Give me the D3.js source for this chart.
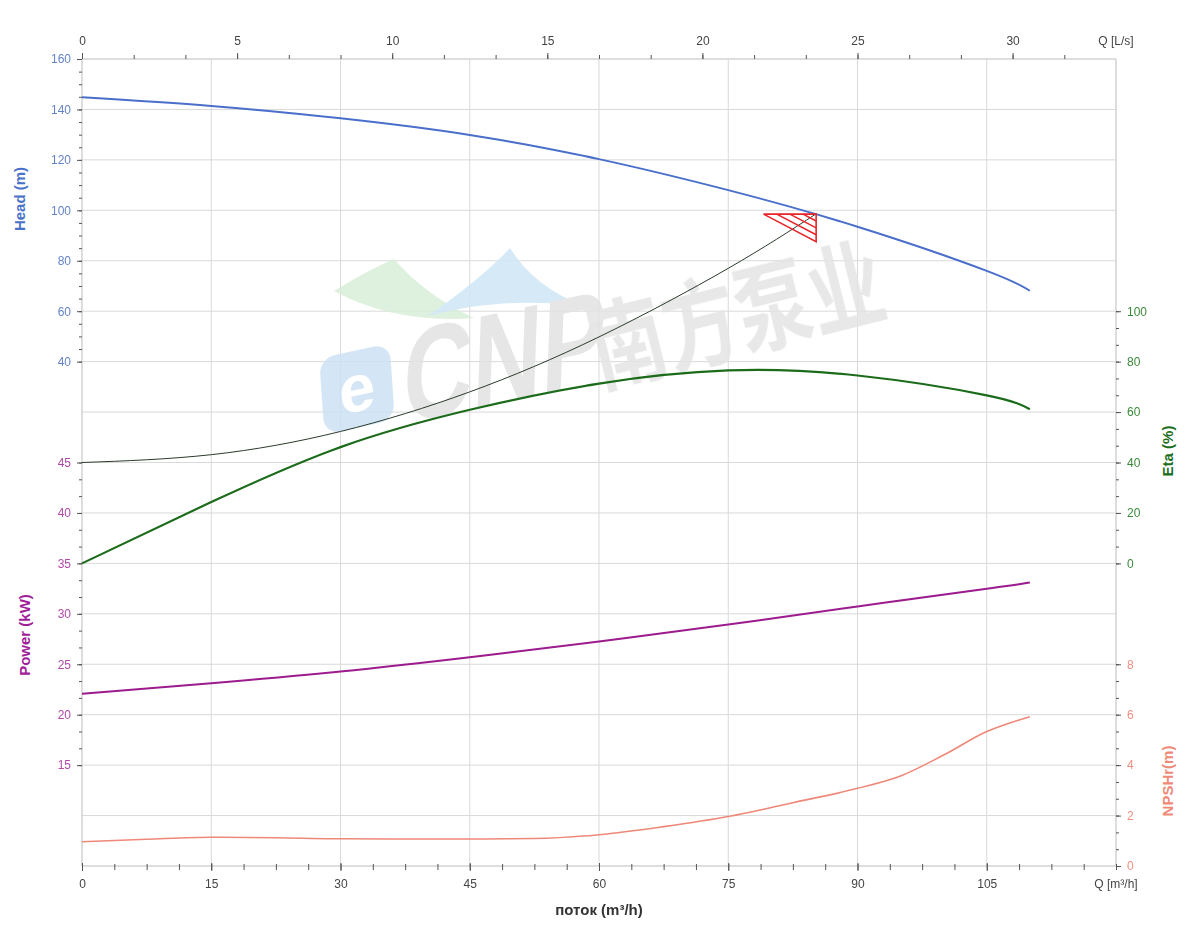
<!DOCTYPE html>
<html>
<head>
<meta charset="utf-8">
<script src="https://cdn.jsdelivr.net/npm/d3@7"></script>
<style>
  body { margin: 0; background: #fff; }
  svg text { font-family: "Liberation Sans", Arial, sans-serif; }
</style>
</head>
<body>
<script>
// flow points (m3/h) used for head / eta / power readings
const flowQ = [0, 15, 30, 45, 60, 75, 90, 105, 110];
const headM = [144.8, 141.4, 136.5, 129.9, 120.3, 108, 93.5, 76, 68.1];
const etaPct = [0, 24.3, 46.1, 60.9, 71.3, 76.5, 74.5, 66.6, 61.1];
const powerKW = [22.07, 23.12, 24.28, 25.7, 27.26, 28.94, 30.73, 32.48, 33.1];

// NPSHr was read at its own flow points
const npshQ = [0, 7.5, 15, 22.5, 30, 45, 52.5, 60, 67.5, 75, 82.5, 90, 95, 100, 105, 110];
const npshM = [0.96, 1.06, 1.14, 1.12, 1.08, 1.07, 1.09, 1.24, 1.56, 1.96, 2.51, 3.08, 3.57, 4.4, 5.33, 5.92];

// system curve, ends at duty point
const sysQ = [0, 15, 30, 45, 60, 75, 85.2];
const sysH = [0, 3.1, 12.3, 28, 49.8, 77, 98.6];

// duty point tolerance triangle: [left Q, duty Q], [top H, bottom H]
const dutyQ = [79.1, 85.2];
const dutyH = [98.5, 87.6];

// tick labels
const bottomTicks = [0, 15, 30, 45, 60, 75, 90, 105];
const topTicks = [0, 5, 10, 15, 20, 25, 30];
const headTicks = [40, 60, 80, 100, 120, 140, 160];
const powerTicks = [15, 20, 25, 30, 35, 40, 45];
const etaTicks = [0, 20, 40, 60, 80, 100];
const npshTicks = [0, 2, 4, 6, 8];

const W = 1200, H = 950;
const pL = 82, pR = 1116, pT = 59, pB = 866;
const row = (pB - pT) / 16;

const svg = d3.select("body").append("svg")
  .attr("width", W).attr("height", H);

const x = d3.scaleLinear().domain([0, 120]).range([pL, pR]);
const xTop = d3.scaleLinear().domain([0, 120 / 3.6]).range([pL, pR]);
const yHead = d3.scaleLinear().domain([0, 160]).range([pT + 8 * row, pT]);
const yPower = d3.scaleLinear().domain([10, 45]).range([pT + 15 * row, pT + 8 * row]);
const yEta = d3.scaleLinear().domain([0, 100]).range([pT + 10 * row, pT + 5 * row]);
const yNpsh = d3.scaleLinear().domain([0, 8]).range([pB, pT + 12 * row]);

const gridColor = "#d9d9d9";

// grid
const grid = svg.append("g");
grid.selectAll("line.h")
  .data(d3.range(17))
  .enter().append("line")
  .attr("x1", pL).attr("x2", pR)
  .attr("y1", (d) => pT + d * row).attr("y2", (d) => pT + d * row)
  .attr("stroke", gridColor);
grid.selectAll("line.v")
  .data(bottomTicks.concat([120]))
  .enter().append("line")
  .attr("x1", (d) => x(d)).attr("x2", (d) => x(d))
  .attr("y1", pT).attr("y2", pB)
  .attr("stroke", gridColor);

// watermark (CNP logo)
const wm = svg.append("g").attr("opacity", 0.85);
wm.append("path")
  .attr("d", "M334,291 Q368,270 394,259 Q425,295 474,318 Q395,324 334,291 Z")
  .attr("fill", "#d9eed9");
wm.append("path")
  .attr("d", "M428,316 Q482,278 510,248 Q534,287 584,306 Q500,296 428,316 Z")
  .attr("fill", "#cfe6f6");
const icon = wm.append("g").attr("transform", "translate(357,389) rotate(-12) skewX(-8)");
icon.append("rect")
  .attr("x", -36).attr("y", -38).attr("width", 72).attr("height", 76)
  .attr("rx", 16)
  .attr("fill", "#cde2f4");
icon.append("text")
  .attr("x", 0).attr("y", 22)
  .attr("text-anchor", "middle")
  .attr("font-size", 66).attr("font-weight", "bold")
  .attr("fill", "#fff")
  .text("e");
wm.append("text")
  .attr("transform", "translate(402,424) rotate(-12) skewX(-14) scale(0.7,0.92)")
  .attr("font-size", 140).attr("font-weight", "bold")
  .attr("fill", "#e2e2e2")
  .text("CNP");
wm.append("text")
  .attr("transform", "translate(600,386) rotate(-14) scale(0.85,1.1)")
  .style("font-family", "'Noto Sans CJK SC', sans-serif")
  .attr("font-size", 88).attr("font-weight", "bold")
  .attr("fill", "#e4e4e4")
  .text("南方泵业");

// axes
const tickColor = "#555";

function styleAxis(g, color) {
  g.select(".domain").remove();
  g.selectAll(".tick line").attr("stroke", tickColor);
  g.selectAll(".tick text").attr("fill", color).attr("font-size", 12)
    .style("font-family", "'Liberation Sans', Arial, sans-serif");
}

// border lines
svg.append("line").attr("x1", pL).attr("x2", pR).attr("y1", pT).attr("y2", pT).attr("stroke", "#cfcfcf");
svg.append("line").attr("x1", pR).attr("x2", pR).attr("y1", pT).attr("y2", pB).attr("stroke", "#cfcfcf");
svg.append("line").attr("x1", pL).attr("x2", pL).attr("y1", pT).attr("y2", pB).attr("stroke", "#cfcfcf");
svg.append("line").attr("x1", pL).attr("x2", pR).attr("y1", pB).attr("y2", pB).attr("stroke", "#cfcfcf");

// top axis (L/s)
svg.append("g").attr("transform", `translate(0,${pT})`)
  .call(d3.axisTop(xTop).tickValues(d3.range(0, 32, 5 / 3)).tickSize(4).tickFormat(""))
  .call((g) => styleAxis(g, "#444"));
svg.append("g").attr("transform", `translate(0,${pT})`)
  .call(d3.axisTop(xTop).tickValues(topTicks).tickSize(6).tickPadding(8))
  .call((g) => styleAxis(g, "#444"));
svg.append("text").attr("x", pR).attr("y", 45)
  .attr("text-anchor", "middle").attr("font-size", 12).attr("fill", "#444")
  .text("Q [L/s]");

// bottom axis (m3/h)
svg.append("g").attr("transform", `translate(0,${pB})`)
  .call(d3.axisBottom(x).tickValues(d3.range(0, 121, 3.75)).tickSize(4).tickFormat(""))
  .call((g) => { styleAxis(g, "#444"); g.selectAll(".tick line").attr("y1", -2); });
svg.append("g").attr("transform", `translate(0,${pB})`)
  .call(d3.axisBottom(x).tickValues(bottomTicks).tickSize(5).tickPadding(8))
  .call((g) => { styleAxis(g, "#444"); g.selectAll(".tick line").attr("y1", -3); });
svg.append("text").attr("x", pR).attr("y", 888)
  .attr("text-anchor", "middle").attr("font-size", 12).attr("fill", "#444")
  .text("Q [m³/h]");
svg.append("text").attr("x", (pL + pR) / 2).attr("y", 915)
  .attr("text-anchor", "middle").attr("font-size", 15).attr("font-weight", "bold").attr("fill", "#333")
  .text("поток (m³/h)");

// left axes
const headColor = "#4a72c8", headLabel = "#6483c6";
const powerColor = "#a0209a", powerLabel = "#b04aa6";
const etaColor = "#1b6e1b", etaLabel = "#3a8a3a";
const npshColor = "#f08a78", npshLabel = "#ef8f80";

svg.append("g").attr("transform", `translate(${pL},0)`)
  .call(d3.axisLeft(yHead).tickValues(d3.range(40, 161, 5)).tickSize(3).tickFormat(""))
  .call((g) => styleAxis(g, headLabel));
svg.append("g").attr("transform", `translate(${pL},0)`)
  .call(d3.axisLeft(yHead).tickValues(headTicks).tickSize(5).tickPadding(6))
  .call((g) => styleAxis(g, headLabel));
svg.append("g").attr("transform", `translate(${pL},0)`)
  .call(d3.axisLeft(yPower).tickValues(d3.range(15, 45.1, 5 / 3)).tickSize(3).tickFormat(""))
  .call((g) => styleAxis(g, powerLabel));
svg.append("g").attr("transform", `translate(${pL},0)`)
  .call(d3.axisLeft(yPower).tickValues(powerTicks).tickSize(5).tickPadding(6))
  .call((g) => styleAxis(g, powerLabel));

// right axes
svg.append("g").attr("transform", `translate(${pR},0)`)
  .call(d3.axisRight(yEta).tickValues(d3.range(0, 100.1, 20 / 3)).tickSize(3).tickFormat(""))
  .call((g) => styleAxis(g, etaLabel));
svg.append("g").attr("transform", `translate(${pR},0)`)
  .call(d3.axisRight(yEta).tickValues(etaTicks).tickSize(5).tickPadding(6))
  .call((g) => styleAxis(g, etaLabel));
svg.append("g").attr("transform", `translate(${pR},0)`)
  .call(d3.axisRight(yNpsh).tickValues(d3.range(0, 8.1, 2 / 3)).tickSize(3).tickFormat(""))
  .call((g) => styleAxis(g, npshLabel));
svg.append("g").attr("transform", `translate(${pR},0)`)
  .call(d3.axisRight(yNpsh).tickValues(npshTicks).tickSize(5).tickPadding(6))
  .call((g) => styleAxis(g, npshLabel));

// axis titles
function vTitle(tx, ty, txt, color) {
  svg.append("text")
    .attr("transform", `translate(${tx},${ty}) rotate(-90)`)
    .attr("text-anchor", "middle")
    .attr("font-size", 15).attr("font-weight", "bold")
    .attr("fill", color)
    .text(txt);
}
vTitle(25, 199, "Head (m)", headColor);
vTitle(30, 635, "Power (kW)", powerColor);
vTitle(1173, 451, "Eta (%)", etaColor);
vTitle(1173, 781, "NPSHr(m)", npshColor);

// curves
function drawLine(qs, vs, yScale, color, width, curve) {
  svg.append("path")
    .datum(qs.map((q, i) => [q, vs[i]]))
    .attr("fill", "none")
    .attr("stroke", color)
    .attr("stroke-width", width)
    .attr("d", d3.line().x((d) => x(d[0])).y((d) => yScale(d[1])).curve(curve));
}

drawLine(sysQ, sysH, yHead, "#2b3a2b", 1, d3.curveNatural);
drawLine(flowQ, headM, yHead, "#4a6fcb", 2, d3.curveNatural);
drawLine(flowQ, etaPct, yEta, "#1b6b1b", 2.2, d3.curveNatural);
drawLine(flowQ, powerKW, yPower, "#9c1b8e", 2, d3.curveNatural);
drawLine(npshQ, npshM, yNpsh, "#ee8878", 1.6, d3.curveMonotoneX);

// duty triangle with hatch
const tri = svg.append("g").attr("stroke", "#e8252a").attr("stroke-width", 1.6).attr("fill", "none");
tri.append("path")
  .attr("d", d3.line()([
    [x(dutyQ[0]), yHead(dutyH[0])],
    [x(dutyQ[1]), yHead(dutyH[0])],
    [x(dutyQ[1]), yHead(dutyH[1])]
  ]) + "Z");
[0.25, 0.5, 0.75].forEach((t) => {
  tri.append("line")
    .attr("x1", x(dutyQ[0] + t * (dutyQ[1] - dutyQ[0])))
    .attr("y1", yHead(dutyH[0]))
    .attr("x2", x(dutyQ[1]))
    .attr("y2", yHead(dutyH[0] - (1 - t) * (dutyH[0] - dutyH[1])));
});
</script>
</body>
</html>
